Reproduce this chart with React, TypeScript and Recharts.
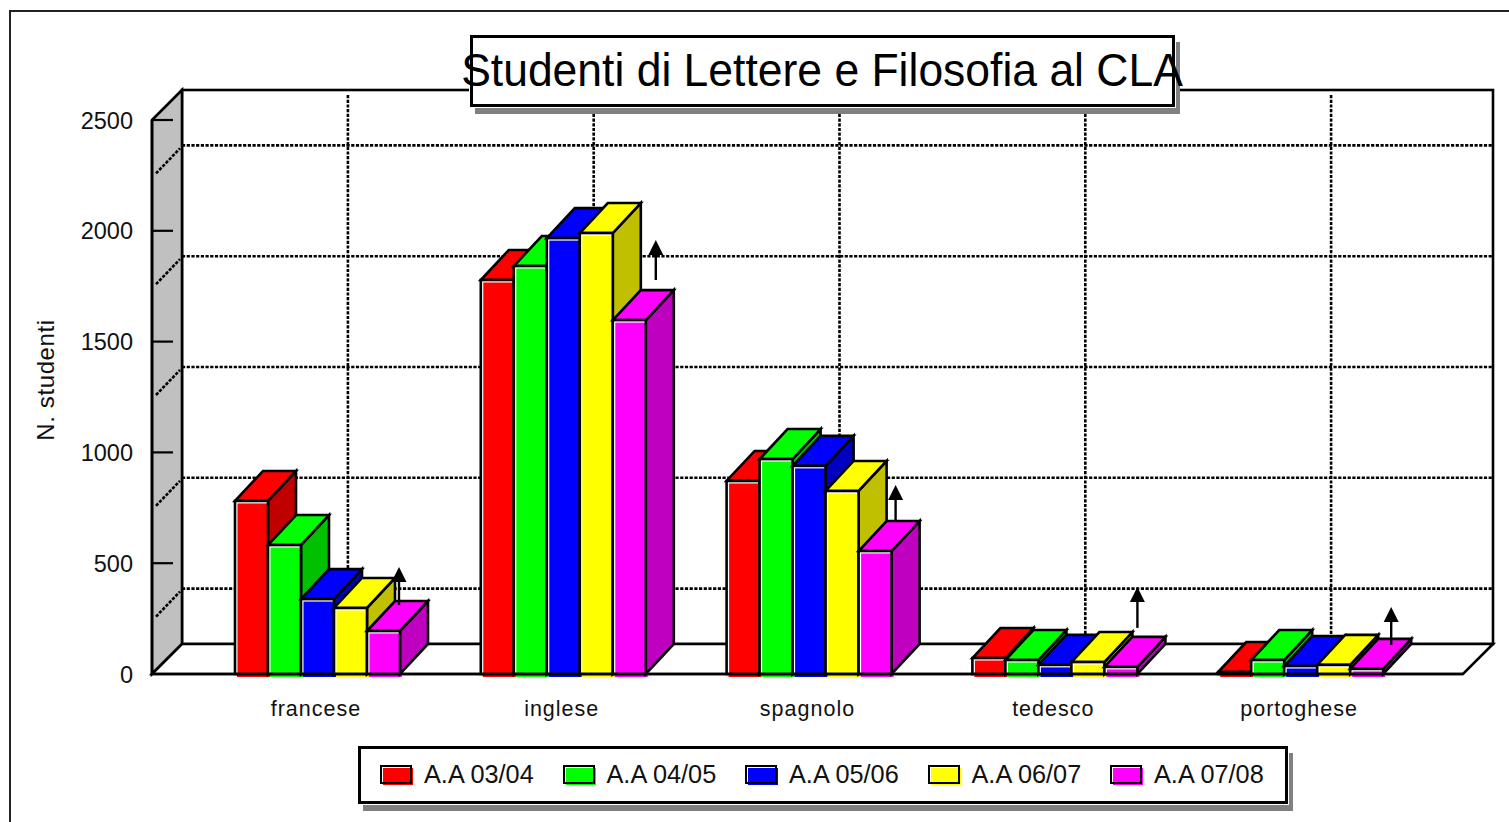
import { BarChart, Bar, XAxis, YAxis, Legend, ReferenceLine, usePlotArea } from "recharts";

const COURSES = ["francese", "inglese", "spagnolo", "tedesco", "portoghese"];
const YEARS = ["A.A 03/04", "A.A 04/05", "A.A 05/06", "A.A 06/07", "A.A 07/08"];
const AA_0304 = [781, 1778, 871, 72, 9];
const AA_0405 = [582, 1841, 970, 63, 63];
const AA_0506 = [338, 1967, 939, 41, 36];
const AA_0607 = [298, 1990, 826, 54, 41];
const AA_0708 = [194, 1597, 555, 32, 23];
const SERIES = [AA_0304, AA_0405, AA_0506, AA_0607, AA_0708];
const Y_TICKS = [0, 500, 1000, 1500, 2000, 2500];
const GRID_VALUES = [250, 750, 1250, 1750, 2250];
// arrows drawn above the last bar of each group, in student units
const ARROW_BASE = [311, 1778, 686, 208, 131];
const ARROW_TIP = [483, 1958, 853, 393, 302];
const ARROW_SHIFT = [-1, 10, 4, 0, 8];

const FRONT = ["#ff0000", "#00ff00", "#0000ff", "#ffff00", "#ff00ff"];
const SIDE = ["#c00000", "#00c000", "#0000c0", "#c0c000", "#c000c0"];
const DEPTH = 30;
const BAR_DEPTH_X = 28;
const LINE = 2.6;
const DOTS = "3.2 1.5";
const FONT = "'Liberation Sans', Arial, sans-serif";

const data = COURSES.map((course, i) => {
  const row: Record<string, string | number> = { course };
  YEARS.forEach((year, s) => {
    row[year] = SERIES[s][i];
  });
  return row;
});

function Walls() {
  const plot = usePlotArea();
  if (!plot) return null;
  const left = plot.x;
  const right = plot.x + plot.width;
  const top = plot.y;
  const bottom = plot.y + plot.height;
  return (
    <g stroke="#000" strokeWidth={LINE}>
      <rect x={left + DEPTH} y={top - DEPTH} width={plot.width} height={plot.height} fill="#fff" />
      <polygon
        points={`${left},${top} ${left + DEPTH},${top - DEPTH} ${left + DEPTH},${bottom - DEPTH} ${left},${bottom}`}
        fill="#c0c0c0"
      />
      <polygon
        points={`${left},${bottom} ${left + DEPTH},${bottom - DEPTH} ${right + DEPTH},${bottom - DEPTH} ${right},${bottom}`}
        fill="#fff"
      />
    </g>
  );
}

function HorizontalGrid({ x1, x2, y1 }: any) {
  return (
    <g stroke="#000" strokeWidth={2.6} strokeDasharray={DOTS} fill="none">
      <line x1={x1 + 4} y1={y1 - 2} x2={x1 + DEPTH - 2} y2={y1 - DEPTH + 3} />
      <line x1={x1 + DEPTH} y1={y1 - DEPTH} x2={x2 + DEPTH} y2={y1 - DEPTH} />
    </g>
  );
}

function VerticalGrid({ x1, y1, y2 }: any) {
  const a = Math.min(y1, y2);
  const b = Math.max(y1, y2);
  return (
    <line
      x1={x1 + DEPTH}
      x2={x1 + DEPTH}
      y1={a - DEPTH + 5}
      y2={b - DEPTH}
      stroke="#000"
      strokeWidth={2.6}
      strokeDasharray={DOTS}
    />
  );
}

function Bar3D(props: any) {
  const { x, y, width, height, value, index, seriesIndex } = props;
  const r = x + width;
  const b = y + height;
  const last = seriesIndex === SERIES.length - 1;
  const perUnit = height / value;
  const arrowX = r + ARROW_SHIFT[index];
  const arrowBase = b - ARROW_BASE[index] * perUnit;
  const arrowTip = b - ARROW_TIP[index] * perUnit;
  return (
    <g>
      <rect x={x + 2} y={b} width={width} height={3} fill={FRONT[seriesIndex]} />
      <polygon
        points={`${r},${y} ${r + BAR_DEPTH_X},${y - DEPTH} ${r + BAR_DEPTH_X},${b - DEPTH} ${r},${b}`}
        fill={SIDE[seriesIndex]}
        stroke="#000"
        strokeWidth={LINE}
      />
      <polygon
        points={`${x},${y} ${x + BAR_DEPTH_X},${y - DEPTH} ${r + BAR_DEPTH_X},${y - DEPTH} ${r},${y}`}
        fill={FRONT[seriesIndex]}
        stroke="#000"
        strokeWidth={LINE}
      />
      <rect x={x} y={y} width={width} height={height} fill="#fff" />
      <rect x={x + 2.5} y={y + 2.5} width={width - 2.5} height={Math.max(height - 2.5, 0)} fill={FRONT[seriesIndex]} />
      <rect x={x} y={y} width={width} height={height} fill="none" stroke="#000" strokeWidth={LINE} />
      {last && (
        <g>
          <line x1={arrowX} x2={arrowX} y1={arrowBase} y2={arrowTip + 10} stroke="#000" strokeWidth={2.4} />
          <polygon
            points={`${arrowX},${arrowTip} ${arrowX + 7.5},${arrowTip + 15} ${arrowX - 7.5},${arrowTip + 15}`}
            fill="#000"
          />
        </g>
      )}
    </g>
  );
}

function ValueTick({ x, y, payload }: any) {
  return (
    <g>
      <text x={x} y={y + 8.5} textAnchor="end" fontFamily={FONT} fontSize={23.5} fill="#111">
        {payload.value}
      </text>
      {payload.value > 0 && <line x1={x + 19} x2={x + 40} y1={y} y2={y} stroke="#000" strokeWidth={2.2} />}
    </g>
  );
}

function CourseTick({ x, y, payload }: any) {
  return (
    <text
      x={x - 2}
      y={y + 34}
      textAnchor="middle"
      fontFamily={FONT}
      fontSize={21.5}
      letterSpacing={1}
      fill="#111"
    >
      {payload.value}
    </text>
  );
}

function AxisTitle({ viewBox }: any) {
  const cy = viewBox.y + viewBox.height / 2 - 17;
  return (
    <text
      transform={`rotate(-90 54 ${cy})`}
      x={54}
      y={cy}
      textAnchor="middle"
      fontFamily={FONT}
      fontSize={24}
      letterSpacing={0.6}
      fill="#111"
    >
      N. studenti
    </text>
  );
}

function LegendBox() {
  return (
    <div
      style={{
        position: "relative",
        width: 924,
        height: 52,
        border: "3px solid #000",
        background: "#fff",
        boxShadow: "0 0 0 1px #fff, 5px 7px 0 #808080",
        fontFamily: FONT,
        fontSize: 25.3,
        color: "#111",
      }}
    >
      {YEARS.map((year, i) => (
        <div key={year} style={{ position: "absolute", left: 19 + i * 182.5, top: 0, height: 52 }}>
          <div style={{ position: "absolute", left: 3, top: 19, width: 30, height: 17, background: FRONT[i] }} />
          <div
            style={{
              position: "absolute",
              left: 0,
              top: 16,
              width: 28,
              height: 15,
              border: "2.5px solid #000",
            }}
          />
          <span style={{ position: "absolute", left: 44, top: 11, whiteSpace: "nowrap", lineHeight: "29px" }}>
            {year}
          </span>
        </div>
      ))}
    </div>
  );
}

export default function App() {
  return (
    <div
      style={{ position: "absolute", left: 0, top: 0, width: 1509, height: 822, overflow: "hidden", background: "#fff" }}
    >
      <div
        style={{
          position: "absolute",
          left: 9,
          top: 10,
          width: 1700,
          height: 1000,
          border: "2px solid #222",
        }}
      />
      <div style={{ position: "absolute", left: 0, top: 0 }}>
        <BarChart
          width={1509}
          height={822}
          data={data}
          barSize={33}
          barGap={0}
          margin={{ top: 120, right: 46, bottom: 24, left: 0 }}
        >
          <Walls />
          {GRID_VALUES.map((v) => (
            <ReferenceLine key={v} y={v} shape={HorizontalGrid} zIndex={100} />
          ))}
          {COURSES.map((c) => (
            <ReferenceLine key={c} x={c} shape={VerticalGrid} zIndex={100} />
          ))}
          <XAxis
            dataKey="course"
            height={60}
            padding={{ left: 43, right: 39 }}
            axisLine={{ stroke: "#000", strokeWidth: LINE }}
            tickLine={false}
            interval={0}
            tick={CourseTick}
          />
          <YAxis
            width={152}
            domain={[0, 2500]}
            ticks={Y_TICKS}
            axisLine={{ stroke: "#000", strokeWidth: LINE }}
            tickLine={false}
            tickSize={0}
            tickMargin={19}
            tick={ValueTick}
            label={{ content: AxisTitle }}
          />
          <Legend
            verticalAlign="bottom"
            height={64}
            content={LegendBox}
            wrapperStyle={{ left: 358, top: 746, width: 930, height: 64, bottom: "auto" }}
          />
          {YEARS.map((year, s) => (
            <Bar
              key={year}
              dataKey={year}
              isAnimationActive={false}
              shape={(p: any) => <Bar3D {...p} seriesIndex={s} />}
            />
          ))}
        </BarChart>
      </div>
      <div
        style={{
          position: "absolute",
          left: 470,
          top: 35,
          width: 699,
          height: 66,
          border: "3px solid #000",
          background: "#fff",
          boxShadow: "0 0 0 1px #fff, 5px 7px 0 #808080",
        }}
      />
      <div
        style={{
          position: "absolute",
          left: 322,
          width: 1000,
          top: 42,
          textAlign: "center",
          fontFamily: FONT,
          fontSize: 47,
          lineHeight: "56px",
          color: "#000",
          transform: "scaleX(0.946)",
        }}
      >
        Studenti di Lettere e Filosofia al CLA
      </div>
    </div>
  );
}
